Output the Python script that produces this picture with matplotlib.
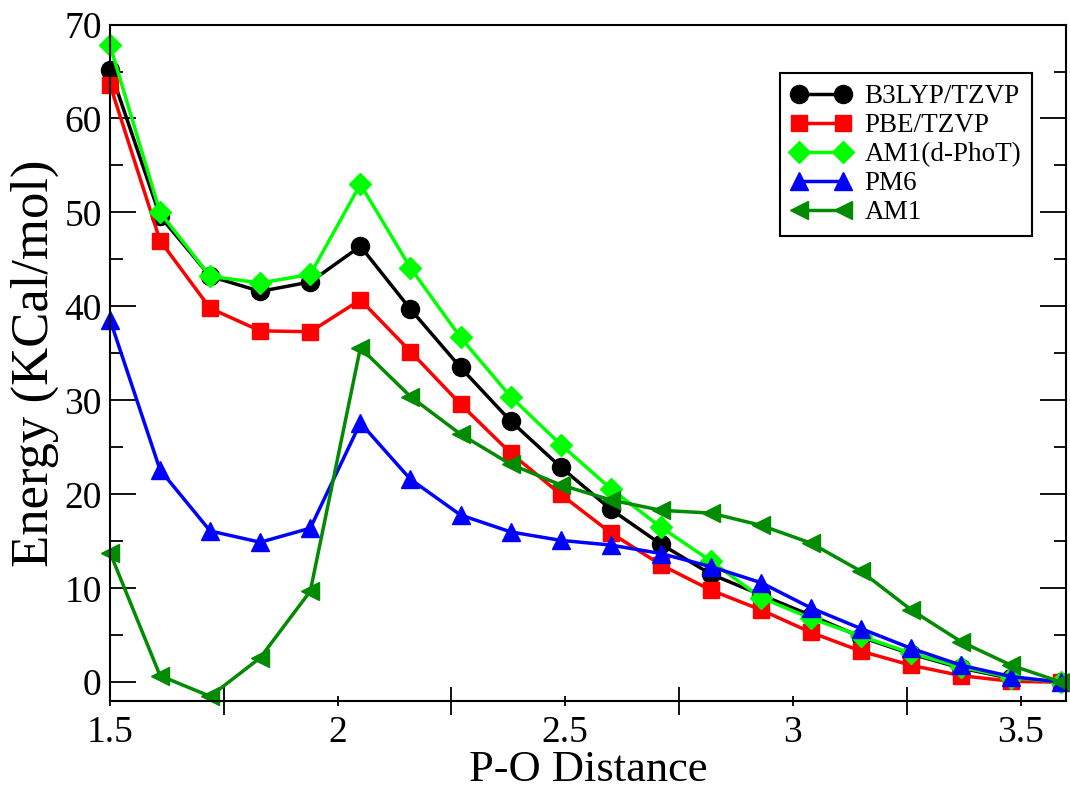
import matplotlib.pyplot as plt
from matplotlib.ticker import MultipleLocator, FormatStrFormatter

plt.rcParams['font.family'] = ['Liberation Serif', 'DejaVu Serif']
plt.rcParams['mathtext.fontset'] = 'stix'

# === P-O distance scan data ===
distance = [1.50, 1.61, 1.72, 1.83, 1.94, 2.05, 2.16, 2.27, 2.38, 2.49,
            2.60, 2.71, 2.82, 2.93, 3.04, 3.15, 3.26, 3.37, 3.48, 3.59]

b3lyp = [65.2, 49.6, 43.2, 41.6, 42.6, 46.4, 39.7, 33.5, 27.8, 22.9,
         18.4, 14.7, 11.5, 9.3, 7.1, 4.8, 3.0, 1.5, 0.4, 0.0]
pbe = [63.6, 47.0, 39.8, 37.4, 37.3, 40.7, 35.2, 29.6, 24.4, 20.0,
       15.9, 12.5, 9.8, 7.7, 5.3, 3.3, 1.8, 0.7, 0.1, 0.0]
am1_dphot = [67.8, 50.0, 43.2, 42.5, 43.4, 53.0, 44.1, 36.7, 30.4, 25.3,
             20.6, 16.5, 12.9, 9.0, 6.8, 4.9, 3.1, 1.6, 0.5, 0.0]
pm6 = [38.6, 22.6, 16.1, 14.9, 16.4, 27.6, 21.6, 17.8, 16.0, 15.1,
       14.6, 13.7, 12.3, 10.6, 7.9, 5.7, 3.6, 1.8, 0.6, 0.0]
am1 = [13.8, 0.7, -1.5, 2.6, 9.7, 35.6, 30.4, 26.4, 23.2, 21.0,
       19.4, 18.3, 18.0, 16.7, 14.8, 11.8, 7.7, 4.3, 1.8, 0.0]

series = [
    ("B3LYP/TZVP", b3lyp, "black", "o", 13),
    ("PBE/TZVP", pbe, "#ff0000", "s", 12),
    ("AM1(d-PhoT)", am1_dphot, "#00ff00", "D", 11),
    ("PM6", pm6, "#0000ff", "^", 13),
    ("AM1", am1, "#008b00", "<", 13),
]

fig = plt.figure(figsize=(10.7, 7.86), dpi=100)
ax = fig.add_axes([0.1028, 0.1081, 0.8935, 0.8607])

for label, vals, color, marker, ms in series:
    ax.plot(distance, vals, color=color, marker=marker, markersize=ms,
            linewidth=2.5, label=label, clip_on=False)

ax.set_xlim(1.5, 3.6)
ax.set_ylim(-2, 70)

ax.xaxis.set_major_locator(MultipleLocator(0.5))
ax.xaxis.set_minor_locator(MultipleLocator(0.25))
ax.xaxis.set_major_formatter(FormatStrFormatter('%g'))
ax.yaxis.set_major_locator(MultipleLocator(10))
ax.yaxis.set_minor_locator(MultipleLocator(5))

ax.tick_params(axis='x', which='major', direction='inout', length=7, width=1.3,
               labelsize=27, pad=7)
ax.tick_params(axis='x', which='minor', direction='inout', length=20, width=1.3)
ax.tick_params(axis='y', which='major', direction='in', length=19, width=1.3,
               labelsize=27, right=True, pad=6)
ax.tick_params(axis='y', which='minor', direction='in', length=9, width=1.3,
               right=True)

for s in ax.spines.values():
    s.set_linewidth(1.5)

ax.set_xlabel("P-O Distance", fontsize=32, labelpad=0)
ax.set_ylabel("Energy (KCal/mol)", fontsize=38, labelpad=4)

leg = ax.legend(loc='upper right', bbox_to_anchor=(0.9644, 0.928),
                borderaxespad=0, fancybox=False, edgecolor='black',
                framealpha=1, fontsize=19.5, numpoints=2, handlelength=2.2,
                labelspacing=0.15, handletextpad=0.5, borderpad=0.4)
leg.get_frame().set_linewidth(1.5)

fig.savefig("out.png", dpi=100)
